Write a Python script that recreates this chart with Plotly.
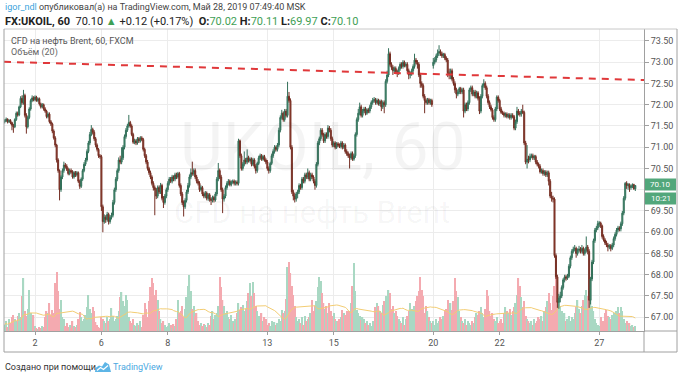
import plotly.graph_objects as go
import pandas as pd

# ---------------- data ----------------
TRADING_DAYS = [1, 2, 3, 6, 7, 8, 9, 10, 13, 14, 15, 16, 17, 20, 21, 22, 23, 24, 27, 28]
BARS_PER_DAY = 23
FIRST_BAR = 2
TICK_DAYS = [2, 6, 8, 13, 15, 20, 22, 27]
PRICE_TICKS = [67.00, 67.50, 68.00, 68.50, 69.00, 69.50, 70.00, 70.50,
               71.00, 71.50, 72.00, 72.50, 73.00, 73.50]
PRICE_TICK_LABELS = ["67.00", "67.50", "68.00", "68.50", "69.00", "69.50", "",
                     "70.50", "71.00", "71.50", "72.00", "72.50", "73.00", "73.50"]

FIRST_OPEN = 71.60
SESSION_GAP_OPENS = {297: 72.92}

CLOSE = [
    71.62, 71.66, 71.60, 71.63, 71.58, 71.52, 71.48,
    71.65, 71.80, 71.76, 71.95, 72.15, 72.05, 72.22,
    71.75, 71.48, 71.70, 71.90, 72.10, 72.16, 72.12,
    72.18, 72.10, 72.14, 72.02, 71.95, 72.00, 71.90,
    71.85, 71.72, 71.78, 71.60, 71.55, 71.38, 71.22,
    71.05, 70.70, 70.45, 70.00, 70.30, 70.45, 70.58,
    70.55, 70.48, 70.38, 70.45, 70.42, 70.30, 70.40,
    70.35, 70.40, 70.20, 70.08, 70.25, 70.45, 70.60,
    70.70, 70.90, 71.10, 71.30, 71.42, 71.35, 71.20,
    71.05, 70.95, 70.80, 70.78, 69.60, 69.25, 69.35,
    69.30, 69.42, 69.25, 69.35, 69.40, 69.70, 70.00,
    70.25, 70.45, 70.70, 70.65, 70.75, 71.00, 71.25,
    71.40, 71.50, 71.58, 71.50, 71.30, 71.12, 71.15,
    71.10, 71.20, 71.15, 71.22, 71.18, 70.95, 70.80,
    70.65, 70.50, 70.40, 70.30, 70.15, 70.05, 70.00,
    69.85, 70.05, 69.95, 70.10, 69.80, 69.70, 69.85,
    70.00, 70.15, 70.25, 70.20, 70.30, 70.25, 70.35,
    70.30, 70.38, 70.10, 69.90, 69.70, 69.60, 69.75,
    69.95, 70.10, 70.30, 70.40, 70.38, 70.45, 70.30,
    70.20, 70.15, 70.00, 70.05, 69.90, 69.85, 69.92,
    69.80, 69.88, 69.78, 69.75, 69.82, 69.76, 69.90,
    70.25, 70.45, 70.30, 70.00, 69.78, 69.85, 70.05,
    70.15, 70.20, 70.12, 70.18, 70.20, 70.15, 70.18,
    70.15, 71.15, 70.80, 70.50, 70.60, 70.70, 70.65,
    70.75, 70.68, 70.72, 70.60, 70.70, 70.55, 70.45,
    70.62, 70.75, 70.80, 70.72, 70.78, 70.70, 70.65,
    70.50, 70.45, 70.62, 70.80, 70.90, 71.00, 70.95,
    71.05, 71.40, 71.70, 71.80, 71.65, 71.85, 71.75,
    72.20, 72.10, 71.00, 69.95, 69.85, 69.78, 69.90,
    69.95, 70.10, 70.05, 70.25, 70.20, 70.35, 70.30,
    70.40, 70.25, 70.35, 70.30, 70.20, 70.10, 70.60,
    71.10, 71.20, 71.40, 71.30, 71.15, 71.30, 71.25,
    71.45, 71.40, 71.20, 71.05, 71.10, 71.00, 71.08,
    71.05, 71.02, 71.10, 71.00, 71.05, 70.90, 70.85,
    70.80, 70.75, 70.85, 70.72, 70.80, 71.30, 71.65,
    71.80, 71.95, 71.75, 71.85, 71.90, 71.80, 71.88,
    71.85, 71.95, 72.05, 72.10, 72.12, 72.05, 72.10,
    72.02, 72.08, 71.95, 72.05, 72.00, 72.55, 72.70,
    73.20, 72.95, 72.88, 72.80, 72.85, 72.78, 72.75,
    72.85, 72.95, 72.90, 73.00, 72.92, 72.95, 72.80,
    72.70, 72.72, 72.80, 72.90, 73.05, 73.00, 72.95,
    72.70, 72.50, 72.45, 72.20, 72.10, 72.05, 72.12,
    72.05, 72.10, 72.00, 73.00, 73.05, 73.15, 73.22,
    73.25, 73.20, 73.15, 73.18, 73.10, 73.05, 72.75,
    72.70, 72.80, 72.60, 72.50, 72.35, 72.25, 72.30,
    72.38, 72.30, 72.35, 71.85, 72.00, 71.90, 72.05,
    72.35, 72.40, 72.25, 72.30, 72.20, 72.28, 72.15,
    71.85, 72.20, 72.45, 72.50, 72.40, 72.20, 72.05,
    71.95, 71.88, 71.70, 71.65, 71.90, 72.18, 72.10,
    71.90, 71.82, 71.80, 71.75, 71.78, 71.72, 71.76,
    71.70, 71.75, 71.72, 71.45, 71.60, 71.85, 71.80,
    71.78, 71.85, 71.82, 71.10, 70.65, 70.72, 70.70,
    70.78, 70.80, 70.75, 70.78, 70.65, 70.60, 70.55,
    70.42, 70.45, 70.38, 70.42, 70.35, 70.40, 70.20,
    69.85, 69.80, 69.78, 68.45, 67.95, 67.35, 67.45,
    67.50, 67.70, 67.88, 67.95, 67.92, 67.96, 68.20,
    68.40, 68.55, 68.60, 68.62, 68.50, 68.58, 68.60,
    68.55, 68.62, 68.50, 68.58, 68.65, 68.55, 67.40,
    67.90, 68.30, 68.80, 69.05, 69.10, 69.20, 69.22,
    69.15, 68.90, 68.82, 68.75, 68.70, 68.65, 68.68,
    68.62, 68.70, 68.85, 68.95, 69.05, 69.10, 69.08,
    69.20, 69.45, 69.80, 70.15, 70.10, 70.12, 70.05,
    70.08, 70.12, 70.02, 70.10,
]

HIGH = [
    71.66, 71.70, 71.68, 71.66, 71.66, 71.60, 71.55,
    71.68, 71.84, 71.84, 71.98, 72.20, 72.22, 72.35,
    72.26, 71.80, 71.74, 71.94, 72.14, 72.22, 72.20,
    72.22, 72.21, 72.17, 72.17, 72.05, 72.04, 72.03,
    71.94, 71.88, 71.82, 71.82, 71.64, 71.58, 71.42,
    71.26, 71.08, 70.74, 70.48, 70.34, 70.50, 70.66,
    70.63, 70.60, 70.52, 70.50, 70.50, 70.46, 70.44,
    70.44, 70.44, 70.43, 70.24, 70.29, 70.49, 70.65,
    70.75, 70.95, 71.15, 71.36, 71.52, 71.46, 71.40,
    71.24, 71.09, 70.98, 70.84, 70.82, 69.65, 69.42,
    69.40, 69.48, 69.46, 69.40, 69.46, 69.76, 70.05,
    70.30, 70.50, 70.76, 70.80, 71.00, 71.05, 71.30,
    71.45, 71.55, 71.76, 71.62, 71.54, 71.34, 71.20,
    71.19, 71.24, 71.24, 71.26, 71.26, 71.22, 70.99,
    70.84, 70.70, 70.54, 70.45, 70.34, 70.20, 70.10,
    70.04, 70.10, 70.10, 70.16, 70.14, 69.85, 69.90,
    70.05, 70.20, 70.30, 70.30, 70.35, 70.34, 70.40,
    70.40, 70.42, 70.42, 70.15, 69.95, 69.75, 69.80,
    70.00, 70.16, 70.36, 70.50, 70.66, 70.50, 70.50,
    70.35, 70.25, 70.20, 70.10, 70.09, 69.95, 69.97,
    69.96, 69.92, 69.92, 69.82, 69.86, 69.86, 69.95,
    70.30, 70.63, 70.50, 70.35, 70.05, 69.90, 70.10,
    70.20, 70.25, 70.24, 70.22, 70.24, 70.24, 70.22,
    70.22, 71.20, 71.18, 70.85, 70.65, 70.90, 70.75,
    70.95, 70.80, 70.76, 70.76, 70.75, 70.74, 70.60,
    70.66, 70.80, 70.85, 70.84, 70.82, 70.82, 70.74,
    70.70, 70.55, 70.66, 70.85, 70.95, 71.05, 71.04,
    71.10, 71.46, 71.75, 71.88, 71.84, 71.90, 71.90,
    72.54, 72.30, 72.15, 71.05, 70.00, 69.92, 69.95,
    70.00, 70.15, 70.14, 70.30, 70.30, 70.40, 70.40,
    70.50, 70.45, 70.40, 70.40, 70.34, 70.25, 70.65,
    71.15, 71.25, 71.45, 71.45, 71.34, 71.35, 71.35,
    71.52, 71.50, 71.45, 71.25, 71.14, 71.14, 71.12,
    71.12, 71.09, 71.15, 71.14, 71.10, 71.09, 70.95,
    70.90, 70.85, 70.90, 70.90, 70.85, 71.35, 71.70,
    71.90, 72.05, 72.00, 71.90, 71.95, 71.95, 71.92,
    71.92, 72.00, 72.10, 72.16, 72.18, 72.16, 72.15,
    72.14, 72.12, 72.12, 72.10, 72.10, 72.60, 72.80,
    73.33, 73.25, 73.00, 72.93, 72.90, 72.90, 72.82,
    72.90, 73.00, 73.00, 73.05, 73.04, 73.00, 73.00,
    72.85, 72.78, 72.85, 72.95, 73.20, 73.10, 73.05,
    73.00, 72.75, 72.55, 72.50, 72.25, 72.15, 72.16,
    72.16, 72.14, 72.14, 73.10, 73.12, 73.20, 73.30,
    73.40, 73.30, 73.25, 73.22, 73.22, 73.14, 73.10,
    72.85, 72.85, 72.85, 72.65, 72.55, 72.40, 72.36,
    72.42, 72.42, 72.40, 72.40, 72.05, 72.05, 72.10,
    72.40, 72.45, 72.45, 72.35, 72.35, 72.33, 72.32,
    72.20, 72.25, 72.50, 72.60, 72.55, 72.45, 72.25,
    72.10, 72.00, 71.92, 71.75, 71.95, 72.22, 72.22,
    72.14, 71.95, 71.86, 71.84, 71.82, 71.82, 71.80,
    71.80, 71.80, 71.80, 71.76, 71.65, 71.95, 71.90,
    71.85, 71.90, 72.00, 71.86, 71.15, 71.05, 70.80,
    70.85, 70.85, 70.85, 70.82, 70.82, 70.70, 70.64,
    70.60, 70.50, 70.50, 70.46, 70.46, 70.45, 70.45,
    70.25, 69.95, 69.86, 69.82, 68.50, 68.00, 67.55,
    67.60, 67.75, 67.92, 68.00, 68.00, 68.02, 68.25,
    68.45, 68.60, 68.66, 68.70, 68.66, 68.62, 68.68,
    68.65, 68.70, 68.66, 68.62, 68.90, 68.70, 68.60,
    67.95, 68.35, 68.85, 69.10, 69.15, 69.27, 69.26,
    69.25, 69.18, 68.95, 68.86, 68.80, 68.75, 68.72,
    68.72, 68.75, 68.90, 69.00, 69.10, 69.15, 69.14,
    69.25, 69.50, 69.85, 70.18, 70.20, 70.16, 70.15,
    70.12, 70.15, 70.14, 70.11,
]

LOW = [
    71.56, 71.59, 71.56, 71.57, 71.54, 71.40, 71.34,
    71.45, 71.62, 71.72, 71.73, 71.92, 72.00, 72.00,
    71.70, 71.32, 71.44, 71.66, 71.86, 72.06, 72.08,
    72.08, 72.07, 72.06, 71.98, 71.91, 71.92, 71.86,
    71.81, 71.68, 71.68, 71.56, 71.50, 71.33, 71.18,
    71.00, 70.64, 70.40, 69.75, 69.95, 70.25, 70.40,
    70.50, 70.44, 70.34, 70.34, 70.38, 70.26, 70.26,
    70.30, 70.31, 70.16, 70.02, 70.04, 70.21, 70.41,
    70.56, 70.66, 70.86, 71.05, 71.26, 71.30, 71.15,
    71.00, 70.90, 70.75, 70.73, 69.50, 69.00, 69.20,
    69.22, 69.25, 69.18, 69.20, 69.30, 69.35, 69.65,
    69.95, 70.20, 70.40, 70.60, 70.60, 70.70, 70.95,
    71.20, 71.36, 71.46, 71.46, 71.26, 71.08, 71.07,
    71.05, 71.06, 71.10, 71.11, 71.14, 70.90, 70.75,
    70.60, 70.45, 70.35, 70.25, 70.10, 69.98, 69.40,
    69.78, 69.80, 69.90, 69.90, 69.75, 69.57, 69.65,
    69.80, 69.95, 70.10, 70.16, 70.15, 70.20, 70.20,
    70.25, 70.26, 70.05, 69.85, 69.64, 69.37, 69.55,
    69.70, 69.90, 70.05, 70.25, 70.33, 70.33, 70.25,
    70.15, 70.10, 69.95, 69.96, 69.85, 69.80, 69.80,
    69.75, 69.74, 69.72, 69.64, 69.70, 69.70, 69.72,
    69.85, 70.20, 70.25, 69.95, 69.45, 69.72, 69.80,
    70.00, 70.10, 70.08, 70.08, 70.14, 70.10, 70.10,
    70.10, 70.10, 70.75, 70.45, 70.45, 70.55, 70.60,
    70.60, 70.64, 70.64, 70.55, 70.56, 70.50, 70.38,
    70.40, 70.58, 70.70, 70.68, 70.68, 70.66, 70.60,
    70.45, 70.38, 70.40, 70.58, 70.75, 70.85, 70.90,
    70.90, 71.00, 71.35, 71.65, 71.60, 71.60, 71.70,
    71.70, 72.05, 70.95, 69.90, 69.75, 69.70, 69.72,
    69.80, 69.90, 70.00, 70.00, 70.15, 70.15, 70.25,
    70.25, 70.20, 70.20, 70.25, 70.15, 70.00, 70.05,
    70.55, 71.05, 71.15, 71.25, 71.10, 71.10, 71.20,
    71.20, 71.35, 71.15, 71.00, 71.00, 70.95, 70.96,
    71.00, 70.98, 70.97, 70.95, 70.96, 70.85, 70.80,
    70.75, 70.50, 70.70, 70.68, 70.68, 70.75, 71.25,
    71.60, 71.75, 71.70, 71.70, 71.80, 71.75, 71.76,
    71.80, 71.80, 71.90, 72.00, 72.05, 72.00, 72.00,
    71.98, 71.97, 71.85, 71.90, 71.80, 71.95, 72.50,
    72.65, 72.90, 72.82, 72.70, 72.75, 72.72, 72.65,
    72.70, 72.80, 72.85, 72.85, 72.88, 72.88, 72.75,
    72.60, 72.62, 72.68, 72.75, 72.85, 72.95, 72.85,
    72.65, 72.40, 72.40, 72.15, 71.80, 72.00, 72.00,
    72.00, 72.00, 71.95, 72.85, 72.95, 73.00, 73.10,
    73.15, 73.15, 73.10, 73.10, 73.05, 73.00, 72.65,
    72.60, 72.60, 72.55, 72.45, 72.28, 72.15, 72.20,
    72.25, 72.25, 72.25, 71.70, 71.80, 71.85, 71.85,
    72.00, 72.30, 72.20, 72.20, 72.15, 72.15, 72.10,
    71.78, 71.80, 72.15, 72.40, 72.35, 72.15, 72.00,
    71.90, 71.84, 71.65, 71.60, 71.60, 71.85, 72.05,
    71.85, 71.78, 71.76, 71.70, 71.70, 71.68, 71.68,
    71.65, 71.65, 71.68, 71.40, 71.40, 71.55, 71.75,
    71.72, 71.72, 71.78, 71.05, 70.60, 70.50, 70.62,
    70.65, 70.74, 70.70, 70.70, 70.60, 70.55, 70.50,
    70.38, 70.38, 70.33, 70.33, 70.30, 70.30, 70.10,
    69.80, 69.72, 69.70, 68.40, 67.90, 67.22, 67.20,
    67.35, 67.45, 67.65, 67.82, 67.86, 67.88, 67.92,
    68.15, 68.35, 68.50, 68.55, 68.40, 68.45, 68.52,
    68.50, 68.50, 68.45, 68.45, 68.52, 68.48, 67.22,
    67.30, 67.85, 68.25, 68.75, 69.00, 69.05, 69.12,
    69.10, 68.85, 68.78, 68.70, 68.65, 68.55, 68.60,
    68.55, 68.58, 68.65, 68.80, 68.90, 69.00, 69.02,
    69.02, 69.15, 69.40, 69.75, 70.02, 70.00, 69.95,
    70.00, 70.04, 70.00, 69.97,
]

VOLUME = [
    6, 10, 4, 12, 8, 14, 16,
    12, 10, 15, 18, 14, 35, 53,
    20, 15, 22, 41, 18, 12, 16,
    5, 3, 2, 4, 3, 5, 4,
    14, 20, 18, 28, 16, 21, 18,
    48, 59, 40, 22, 31, 14, 12,
    5, 8, 4, 6, 3, 10, 5,
    4, 6, 12, 19, 14, 10, 12,
    16, 24, 36, 22, 18, 24, 20,
    9, 6, 4, 3, 14, 12, 10,
    8, 14, 10, 12, 23, 15, 10,
    12, 15, 20, 34, 39, 30, 25,
    36, 31, 14, 10, 8, 12, 6,
    5, 8, 6, 10, 4, 16, 28,
    22, 14, 30, 44, 53, 48, 36,
    41, 31, 20, 12, 8, 10, 6,
    4, 5, 8, 6, 3, 7, 5,
    12, 31, 18, 20, 25, 14, 22,
    34, 45, 56, 40, 22, 25, 15,
    18, 10, 6, 8, 5, 7, 6,
    4, 8, 6, 15, 20, 12, 16,
    18, 25, 54, 44, 31, 25, 18,
    20, 14, 12, 16, 10, 8, 12,
    18, 28, 21, 24, 26, 20, 22,
    30, 38, 48, 35, 49, 38, 25,
    20, 15, 12, 18, 10, 14, 12,
    6, 8, 5, 10, 7, 9, 6,
    8, 12, 10, 21, 18, 20, 32,
    64, 69, 58, 45, 36, 25, 14,
    10, 12, 8, 14, 6, 15, 10,
    12, 14, 18, 31, 20, 25, 30,
    44, 54, 50, 38, 28, 22, 25,
    18, 28, 20, 15, 18, 12, 10,
    10, 12, 14, 21, 18, 16, 20,
    14, 20, 28, 45, 68, 40, 21,
    18, 15, 11, 14, 12, 8, 10,
    6, 8, 5, 10, 7, 24, 28,
    25, 20, 18, 26, 30, 35, 28,
    41, 38, 22, 25, 18, 20, 15,
    12, 10, 8, 14, 6, 12, 15,
    20, 28, 22, 18, 25, 30, 35,
    40, 54, 41, 35, 18, 25, 20,
    14, 10, 8, 10, 6, 12, 8,
    10, 14, 12, 15, 20, 22, 31,
    25, 28, 21, 30, 53, 40, 34,
    20, 14, 10, 8, 12, 6, 10,
    8, 6, 10, 8, 14, 18, 16,
    20, 24, 18, 14, 22, 41, 35,
    20, 15, 18, 12, 10, 14, 8,
    10, 12, 8, 18, 24, 20, 18,
    22, 16, 20, 24, 28, 36, 53,
    45, 34, 24, 30, 15, 12, 10,
    8, 10, 6, 12, 8, 10, 14,
    12, 15, 10, 20, 24, 30, 38,
    28, 21, 35, 45, 54, 49, 31,
    25, 20, 14, 18, 10, 12, 15,
    10, 14, 12, 18, 24, 31, 22,
    18, 25, 31, 36, 41, 35, 40,
    31, 25, 20, 12, 8, 6, 5,
    14, 8, 10, 18, 21, 15, 14,
    12, 16, 18, 14, 20, 24, 18,
    24, 20, 12, 8, 10, 6, 8,
    5, 6, 4, 5,
]

TREND_PRICES = [73.01, 72.58]
LAST_PRICE_LABEL = "70.10"
COUNTDOWN_LABEL = "10:21"

# ---------------- build ----------------
W, H = 680, 378
PL, PR, PT, PB = 4, 644, 29, 331
FONT = "Roboto, Liberation Sans, sans-serif"

n = len(CLOSE)
xs = [FIRST_BAR + k for k in range(n)]
OPEN = [FIRST_OPEN] + CLOSE[:-1]
for k, v in SESSION_GAP_OPENS.items():
    OPEN[k] = v

X_RANGE = [FIRST_BAR - 0.5, FIRST_BAR - 0.5 + (PR - PL) / 1.443]
Y_RANGE = [66.676, 73.782]
VOL_RANGE = [0, 302]

tickvals = [BARS_PER_DAY * TRADING_DAYS.index(d) for d in TICK_DAYS]
ticktext = [str(d) for d in TICK_DAYS]

def px(x):
    return (x - PL) / (PR - PL)

def py(y):
    return (PB - y) / (PB - PT)

UP_VOL = "#a9d8c3"
DN_VOL = "#f4aab0"
vol_colors = [UP_VOL if c >= o else DN_VOL for o, c in zip(OPEN, CLOSE)]
vol_ma = pd.Series(VOLUME).rolling(20, min_periods=1).mean()

fig = go.Figure()
fig.add_trace(go.Bar(x=xs, y=VOLUME, marker=dict(color=vol_colors, line=dict(width=0)),
                     yaxis="y", hoverinfo="skip"))
fig.add_trace(go.Scatter(x=xs, y=vol_ma, mode="lines", line=dict(color="#f3cd73", width=1),
                         yaxis="y", hoverinfo="skip"))
fig.add_trace(go.Candlestick(
    x=xs, open=OPEN, high=HIGH, low=LOW, close=CLOSE, yaxis="y2",
    increasing=dict(line=dict(color="#33705a", width=1), fillcolor="#4c9f7a"),
    decreasing=dict(line=dict(color="#742e23", width=1), fillcolor="#a64434"),
    whiskerwidth=0, hoverinfo="skip"))
fig.add_trace(go.Scatter(x=X_RANGE, y=TREND_PRICES, mode="lines", yaxis="y2",
                         line=dict(color="#e0383a", width=2, dash="7px,6px"),
                         hoverinfo="skip"))

fig.update_layout(
    width=W, height=H, showlegend=False,
    margin=dict(l=PL, r=W - PR, t=PT, b=H - PB, autoexpand=False),
    paper_bgcolor="white", plot_bgcolor="white",
    font=dict(family=FONT, size=9, color="#555"),
    bargap=0.1, boxgap=0.0,
    xaxis=dict(range=X_RANGE, tickvals=tickvals, ticktext=ticktext,
               showgrid=True, gridcolor="#ececec", gridwidth=1, zeroline=False,
               showline=True, linecolor="#a0a0a0", linewidth=1,
               ticks="outside", ticklen=3, tickcolor="#a0a0a0",
               tickfont=dict(family=FONT, size=9, color="#555"),
               rangeslider=dict(visible=False), fixedrange=True),
    yaxis=dict(range=VOL_RANGE, visible=False, fixedrange=True),
    yaxis2=dict(range=Y_RANGE, overlaying="y", side="right",
                tickvals=PRICE_TICKS, ticktext=PRICE_TICK_LABELS,
                showgrid=True, gridcolor="#ececec", gridwidth=1, zeroline=False,
                showline=True, linecolor="#a0a0a0", linewidth=1,
                ticks="outside", ticklen=4, tickcolor="#a0a0a0",
                tickfont=dict(family=FONT, size=9, color="#555"), fixedrange=True),
)

frame_col = "#c8c8c8"
shapes = [
    dict(type="line", xref="paper", yref="paper", x0=px(PL), x1=px(677), y0=py(PT), y1=py(PT),
         line=dict(color=frame_col, width=1)),
    dict(type="line", xref="paper", yref="paper", x0=px(PL), x1=px(677), y0=py(352), y1=py(352),
         line=dict(color="#a0a0a0", width=1)),
    dict(type="line", xref="paper", yref="paper", x0=px(PL), x1=px(PL), y0=py(PT), y1=py(352),
         line=dict(color="#a0a0a0", width=1)),
    dict(type="line", xref="paper", yref="paper", x0=px(677), x1=px(677), y0=py(PT), y1=py(352),
         line=dict(color="#a0a0a0", width=1)),
    dict(type="line", xref="paper", yref="paper", x0=1, x1=1, y0=py(PB), y1=py(352),
         line=dict(color="#a0a0a0", width=1)),
    dict(type="line", xref="paper", yref="paper", x0=1, x1=px(677), y0=0, y1=0,
         line=dict(color="#a0a0a0", width=1)),
    dict(type="rect", xref="paper", yref="paper", x0=px(645), x1=px(676), y0=py(190.5), y1=py(178.5),
         fillcolor="#52a77b", line=dict(width=0)),
    dict(type="rect", xref="paper", yref="paper", x0=px(645), x1=px(676), y0=py(204.5), y1=py(192.5),
         fillcolor="#52a77b", line=dict(width=0)),
    dict(type="path", xref="paper", yref="paper",
         path="M %f %f L %f %f L %f %f L %f %f L %f %f L %f %f L %f %f Z" % (
             px(95), py(372), px(95.5), py(368), px(99), py(365.5), px(102), py(366.5),
             px(105), py(362), px(109), py(364.5), px(111), py(372)),
         fillcolor="#5db5e6", line=dict(width=0)),
    dict(type="path", xref="paper", yref="paper",
         path="M %f %f L %f %f L %f %f L %f %f" % (
             px(97), py(370.5), px(100.5), py(367.5), px(103.5), py(369.5), px(108), py(365.5)),
         line=dict(color="white", width=1.2)),
]
fig.update_layout(shapes=shapes)

ann = []
def text(x, y, s, size=9, color="#555", anchor="left"):
    ann.append(dict(xref="paper", yref="paper", x=px(x), y=py(y), text=s, showarrow=False,
                    xanchor=anchor, yanchor="middle", font=dict(family=FONT, size=size, color=color),
                    borderpad=0))

G = "#3fa055"
text(4, 8, '<span style="color:#3aa3dc">igor_ndl</span> опубликовал(а) на TradingView.com, Май 28, 2019 07:49:40 MSK',
     size=9, color="#444")
text(4, 21, ('<b>FX:UKOIL, 60</b>  70.10 <span style="color:%s">▲</span> +0.12 (+0.17%%)  '
             '<b>O:</b><span style="color:%s">70.02</span> <b>H:</b><span style="color:%s">70.11</span> '
             '<b>L:</b><span style="color:%s">69.97</span> <b>C:</b><span style="color:%s">70.10</span>')
     % (G, G, G, G, G), size=11, color="#222")
text(10, 41, "CFD на нефть Brent, 60, FXCM", size=9, color="#555")
text(10, 53, "Объём (20)", size=9, color="#666")
text(323, 147, "UKOIL, 60", size=66, color="rgba(0,0,0,0.045)", anchor="center")
text(312, 212, "CFD на нефть Brent", size=31, color="rgba(0,0,0,0.045)", anchor="center")
text(660.5, 184.5, LAST_PRICE_LABEL, size=8, color="white", anchor="center")
text(660.5, 198.5, COUNTDOWN_LABEL, size=8, color="white", anchor="center")
text(4, 367, "Создано при помощи", size=9, color="#333")
text(112, 367, "TradingView", size=9, color="#4aa8df")
fig.update_layout(annotations=ann)

fig.write_html("out.html", config={"displayModeBar": False},
               post_script="document.body.style.margin='0px';document.body.style.padding='0px';")
